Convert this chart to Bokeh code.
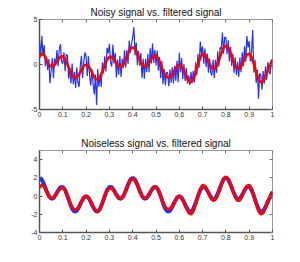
from bokeh.plotting import figure
from bokeh.layouts import column
from bokeh.models import FixedTicker, LinearAxis, Range1d
from bokeh.embed import file_html
from bokeh.resources import INLINE

# time axes
t_clean = [round(0.01 * i, 3) for i in range(101)]
t_noisy = [round(0.005 * i, 4) for i in range(201)]

# noiseless signal
clean = [2.00, 1.80, 1.26, 0.58, 0.00, -0.29, -0.22, 0.15, 0.62, 0.97,
         1.00, 0.65, 0.00, -0.76, -1.40, -1.71, -1.62, -1.20, -0.64, -0.18,
         0.00, -0.18, -0.64, -1.20, -1.62, -1.71, -1.40, -0.76, 0.00, 0.65,
         1.00, 0.97, 0.62, 0.15, -0.22, -0.29, 0.00, 0.58, 1.26, 1.80,
         2.00, 1.80, 1.26, 0.58, 0.00, -0.29, -0.22, 0.15, 0.62, 0.97,
         1.00, 0.65, 0.00, -0.76, -1.40, -1.71, -1.62, -1.20, -0.64, -0.18,
         0.00, -0.18, -0.64, -1.20, -1.62, -1.80, -1.40, -0.76, 0.00, 0.65,
         1.05, 0.97, 0.62, 0.15, -0.30, -0.40, 0.00, 0.58, 1.26, 1.85,
         2.05, 1.80, 1.26, 0.58, 0.00, -0.35, -0.30, 0.15, 0.62, 1.00,
         1.10, 0.65, 0.00, -0.76, -1.40, -1.80, -1.62, -1.20, -0.60, -0.10,
         0.40]

# filtered signal
filtered = [0.95, 1.20, 1.05, 0.50, 0.00, -0.22, -0.18, 0.15, 0.55, 0.85,
            0.90, 0.62, 0.02, -0.65, -1.25, -1.50, -1.45, -1.10, -0.60, -0.15,
            0.00, -0.15, -0.60, -1.15, -1.60, -1.70, -1.40, -0.75, -0.02, 0.55,
            0.85, 0.85, 0.55, 0.10, -0.20, -0.25, 0.00, 0.55, 1.20, 1.75,
            1.90, 1.72, 1.20, 0.55, 0.02, -0.22, -0.18, 0.15, 0.62, 0.95,
            1.00, 0.65, 0.00, -0.70, -1.25, -1.45, -1.40, -1.10, -0.62, -0.20,
            0.00, -0.20, -0.70, -1.30, -1.80, -2.00, -1.65, -0.90, 0.00, 0.75,
            1.20, 1.10, 0.62, 0.05, -0.40, -0.50, -0.20, 0.45, 1.25, 1.85,
            2.10, 1.90, 1.30, 0.55, -0.10, -0.50, -0.45, 0.05, 0.65, 1.10,
            1.20, 0.80, 0.05, -0.85, -1.65, -2.00, -1.85, -1.30, -0.65, 0.00,
            0.50]

# noisy signal
noisy = [2.80, 0.75, 3.20, 0.95, 2.16, -0.18, 0.88, -0.62, 0.60, -2.07,
         -0.69, 0.73, -1.52, 0.65, -0.05, 1.60, -0.18, 1.72, 2.27, 0.30,
         0.10, 1.35, -0.75, 1.13, 1.00, -1.58, -0.36, -2.10, 0.10, -2.18,
         -0.81, -2.60, -0.32, -2.02, -2.50, -0.22, 0.96, -1.50, 0.32, 1.34,
         0.90, -1.26, 0.92, -1.20, -2.34, -0.52, -2.10, -3.32, -1.12, -4.50,
         -0.51, -2.48, -1.10, -2.50, 0.24, -0.98, 0.90, -0.77, 1.85, 1.25,
         2.30, 0.20, -0.23, 2.22, 0.12, 1.30, -1.45, 0.55, -1.12, 0.93,
         -1.39, 0.63, -0.40, 1.58, -0.32, 1.62, 0.06, 2.65, 1.30, 2.35,
         3.00, 4.15, 1.00, 2.45, -0.04, 1.52, -0.12, 1.28, -1.50, 0.63,
         -1.59, 0.63, -0.82, 1.15, -0.85, 1.80, 0.12, 2.32, 0.17, 1.60,
         -0.10, 1.55, -0.65, 0.83, -1.50, 0.42, -2.16, -0.50, -2.30, -0.88,
         -0.91, -2.40, -0.52, -2.02, -0.30, -2.12, -0.14, -1.80, 0.42, -1.96,
         1.30, -0.86, 0.72, -1.60, 0.06, -1.82, -0.40, -2.12, -1.22, -2.30,
         -0.81, -2.08, -0.70, -2.00, 0.24, -1.18, 1.20, -0.37, 2.55, 1.15,
         2.00, 0.10, 1.77, -0.28, 1.22, -0.90, 0.65, -0.95, -1.22, 0.53,
         -1.49, 0.53, -0.90, 1.48, -0.22, 1.92, 1.66, 3.55, 1.20, 3.05,
         3.00, 1.15, 2.70, 0.35, 1.96, -0.18, 1.18, -0.92, 0.80, -1.17,
         0.31, -1.37, 0.78, -0.85, 1.35, -0.20, 2.02, 0.32, 3.17, 1.90,
         2.60, 0.35, 1.45, 3.83, -0.90, 0.52, -2.06, -0.60, -3.80, -0.98,
         -1.21, -2.80, -0.72, -2.12, -0.20, -1.72, 0.26, -0.80, -1.08, 0.54,
         -0.40]

x_ticks = [0, 0.1, 0.2, 0.3, 0.4, 0.5, 0.6, 0.7, 0.8, 0.9, 1]
x_tick_labels = ["0", "0.1", "0.2", "0.3", "0.4", "0.5", "0.6", "0.7", "0.8", "0.9", "1"]
y1_ticks = [-5, 0, 5]
y1_tick_labels = ["-5", "0", "5"]
y2_ticks = [-4, -2, 0, 2, 4]
y2_tick_labels = ["-4", "-2", "0", "2", "4"]

titles = ["Noisy signal vs. filtered signal", "Noiseless signal vs. filtered signal"]

FONT = "Liberation Sans"
BLUE = "#2233ff"
RED = "#ff0000"


def make_fig(title, yr, yticks, ylabels, fh, top_border, bottom_border):
    p = figure(output_backend="svg", toolbar_location=None,
               frame_width=233, frame_height=fh,
               x_range=Range1d(0, 1), y_range=Range1d(*yr),
               min_border_left=39, min_border_right=20,
               min_border_top=top_border, min_border_bottom=bottom_border,
               title=title)
    p.title.text_font = FONT
    p.title.text_font_size = "10px"
    p.title.text_font_style = "normal"
    p.title.align = "center"
    p.title.text_color = "#111111"
    p.title.standoff = 3
    p.grid.visible = False
    p.outline_line_color = "#999999"
    p.outline_line_width = 1
    p.background_fill_color = "white"
    p.border_fill_color = "white"

    for ax in p.xaxis:
        ax.ticker = FixedTicker(ticks=x_ticks)
        ax.major_label_overrides = {k: v for k, v in zip(x_ticks, x_tick_labels)}
    for ax in p.yaxis:
        ax.ticker = FixedTicker(ticks=yticks)
        ax.major_label_overrides = {k: v for k, v in zip(yticks, ylabels)}
    for ax in list(p.xaxis) + list(p.yaxis):
        ax.major_tick_in = 3
        ax.major_tick_out = 0
        ax.minor_tick_line_color = None
        ax.axis_line_color = "#555555"
        ax.axis_line_width = 1.5
        ax.major_tick_line_color = "#555555"
        ax.major_label_text_font = FONT
        ax.major_label_text_font_size = "7px"
        ax.major_label_text_color = "#333333"
        ax.major_label_standoff = 2

    for loc, ticks in (("right", yticks), ("above", x_ticks)):
        a = LinearAxis(ticker=FixedTicker(ticks=ticks))
        a.major_label_text_font_size = "0px"
        a.major_label_text_color = None
        a.major_tick_in = 3
        a.major_tick_out = 0
        a.minor_tick_line_color = None
        a.axis_line_color = None
        a.major_tick_line_color = "#777777"
        a.major_label_standoff = 0
        p.add_layout(a, loc)
    return p


p1 = make_fig(titles[0], (-5, 5), y1_ticks, y1_tick_labels, 90, 19, 0)
p1.line(t_noisy, noisy, line_color=BLUE, line_width=1.2)
p1.line(t_clean, filtered, line_color=RED, line_width=2.6)

p2 = make_fig(titles[1], (-4, 5), y2_ticks, y2_tick_labels, 82, 31, 0)
p2.line(t_clean, clean, line_color=BLUE, line_width=4)
p2.line(t_clean, filtered, line_color=RED, line_width=3)

layout = column(p1, p2, spacing=0)

open("out.html", "w").write(file_html(layout, INLINE))
